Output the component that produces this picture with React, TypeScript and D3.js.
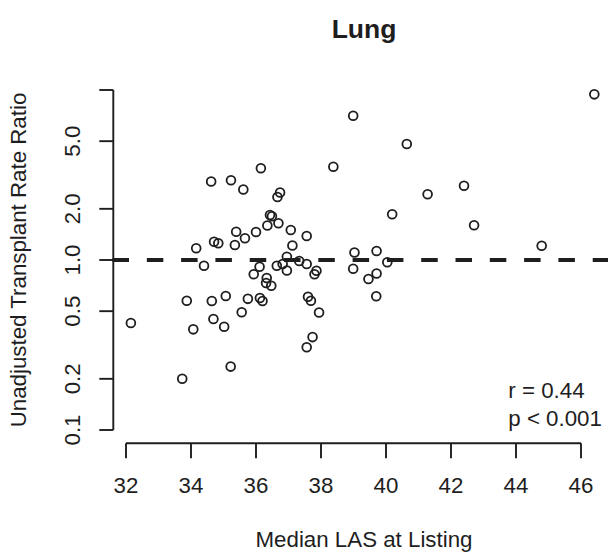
import React from "react";
import * as d3 from "d3";

const lasValues = [
  32.15, 33.73, 33.87, 34.07, 34.16, 34.4, 34.62, 34.64, 34.69, 34.71,
  34.84, 35.02, 35.07, 35.22, 35.23, 35.35, 35.39, 35.56, 35.61, 35.66,
  35.75, 35.93, 36.0, 36.11, 36.12, 36.15, 36.2, 36.33, 36.31, 36.35,
  36.43, 36.49, 36.47, 36.64, 36.66, 36.69, 36.74, 36.82, 36.95, 36.95,
  37.07, 37.12, 37.33, 37.56, 37.56, 37.56, 37.6, 37.69, 37.74, 37.8,
  37.86, 37.94, 38.38, 38.99, 39.03, 38.99, 39.46, 39.7, 39.71, 39.71,
  40.04, 40.19, 40.64, 41.28, 42.4, 42.71, 44.79, 46.41,
];
const rateRatios = [
  0.426, 0.2, 0.576, 0.391, 1.172, 0.926, 2.896, 0.574, 0.45, 1.281,
  1.254, 0.405, 0.614, 0.236, 2.943, 1.225, 1.467, 0.493, 2.598, 1.342,
  0.591, 0.825, 1.461, 0.913, 0.598, 3.463, 0.574, 0.784, 0.732, 1.596,
  1.84, 1.807, 0.706, 0.926, 2.348, 1.644, 2.495, 0.947, 1.046, 0.868,
  1.501, 1.217, 0.987, 0.947, 1.384, 0.307, 0.608, 0.576, 0.352, 0.824,
  0.865, 0.491, 3.539, 7.06, 1.107, 0.889, 0.773, 0.612, 1.13, 0.833,
  0.969, 1.857, 4.81, 2.435, 2.736, 1.6, 1.214, 9.43,
];
const xTicks = [32, 34, 36, 38, 40, 42, 44, 46];
const yTicks = [0.1, 0.2, 0.5, 1, 2, 5, 10];
const yTickLabels = ["0.1", "0.2", "0.5", "1.0", "2.0", "5.0", ""];
const statLines = ["r = 0.44", "p < 0.001"];

const W = 608;
const H = 556;
const INK = "#1e1e1e";
const FONT = "'Liberation Sans', Arial, Helvetica, sans-serif";

export default function App() {
  const x = d3.scaleLinear().domain([32, 46]).range([126, 581]);
  const y = d3.scaleLog().domain([0.1, 10]).range([430, 90]);
  const axisY = 113.3;
  const axisX = 443.3;
  const tick = 14;
  const fs = 22.3;

  return (
    <svg
      width={W}
      height={H}
      style={{ position: "absolute", left: 0, top: 0, background: "#fff" }}
      fontFamily={FONT}
    >
      <rect x={0} y={0} width={W} height={H} fill="#fff" />
      {/* title */}
      <text x={364} y={38} textAnchor="middle" fontSize={26.5} fontWeight="bold" fill={INK}>
        Lung
      </text>

      {/* reference line */}
      <line
        x1={x(31.585)}
        x2={W}
        y1={y(1)}
        y2={y(1)}
        stroke={INK}
        strokeWidth={4}
        strokeDasharray="16.5 17.8"
      />

      {/* y axis */}
      <line x1={axisY} x2={axisY} y1={y(10)} y2={y(0.1)} stroke={INK} strokeWidth={1.9} />
      {yTicks.map((t, i) => (
        <g key={"yt" + i}>
          <line x1={axisY - tick} x2={axisY} y1={y(t)} y2={y(t)} stroke={INK} strokeWidth={1.9} />
          {yTickLabels[i] && (
            <text
              transform={`translate(80,${y(t)}) rotate(-90)`}
              textAnchor="middle"
              fontSize={fs}
              fill={INK}
            >
              {yTickLabels[i]}
            </text>
          )}
        </g>
      ))}
      <text
        transform={`translate(25.5,${(y(10) + y(0.1)) / 2}) rotate(-90)`}
        textAnchor="middle"
        fontSize={fs}
        fill={INK}
      >
        Unadjusted Transplant Rate Ratio
      </text>

      {/* x axis */}
      <line x1={x(32)} x2={x(46)} y1={axisX} y2={axisX} stroke={INK} strokeWidth={1.9} />
      {xTicks.map((t) => (
        <g key={"xt" + t}>
          <line x1={x(t)} x2={x(t)} y1={axisX} y2={axisX + tick + 1} stroke={INK} strokeWidth={1.9} />
          <text x={x(t)} y={493.3} textAnchor="middle" fontSize={fs} fill={INK}>
            {t}
          </text>
        </g>
      ))}
      <text x={364} y={547} textAnchor="middle" fontSize={fs} fill={INK}>
        Median LAS at Listing
      </text>

      {/* points */}
      {lasValues.map((v, i) => (
        <circle
          key={"p" + i}
          cx={x(v)}
          cy={y(rateRatios[i])}
          r={4.4}
          fill="none"
          stroke={INK}
          strokeWidth={1.8}
        />
      ))}

      {/* stats */}
      {statLines.map((s, i) => (
        <text key={"s" + i} x={508.3} y={398.3 + i * 27.7} fontSize={fs} fill={INK}>
          {s}
        </text>
      ))}
    </svg>
  );
}
